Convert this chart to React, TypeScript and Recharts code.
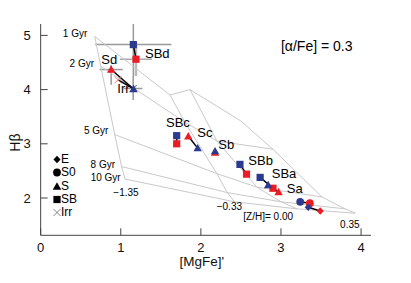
import React from 'react';
import { ScatterChart, Scatter, XAxis, YAxis, ErrorBar, Legend } from 'recharts';

const BLUE = '#2b3a8f';
const RED = '#ec1c24';
const GRID = '#c9c9c9';
const FRAME = '#444';
const FONT = '"Liberation Sans", Arial, Helvetica, sans-serif';

const X_DOMAIN: [number, number] = [0, 4.124];
const Y_DOMAIN: [number, number] = [1.312, 5.21];
const xTicks = [0, 1, 2, 3, 4];
const xMinorTicks = [0.2, 0.4, 0.6, 0.8, 1.2, 1.4, 1.6, 1.8, 2.2, 2.4, 2.6, 2.8, 3.2, 3.4, 3.6, 3.8, 4.0];
const yTicks = [2, 3, 4, 5];
const yMinorTicks = [1.4, 1.6, 1.8, 2.2, 2.4, 2.6, 2.8, 3.2, 3.4, 3.6, 3.8, 4.2, 4.4, 4.6, 4.8, 5.2];

// model grid: one pair of arrays per [Z/H], ages 1, 2, 5, 8, 10 Gyr
const ageLabels = ['1 Gyr', '2 Gyr', '5 Gyr', '8 Gyr', '10 Gyr'];
const mgfeZm135 = [0.675, 0.75, 0.925, 1.01, 1.053];
const hbZm135 = [4.98, 4.43, 3.17, 2.58, 2.35];
const mgfeZm033 = [1.615, 1.8, 2.2, 2.33, 2.42];
const hbZm033 = [3.9, 3.4, 2.45, 2.1, 1.93];
const mgfeZ000 = [1.865, 2.2, 2.7, 3.0, 3.2];
const hbZ000 = [4.0, 3.05, 2.2, 1.93, 1.8];
const mgfeZp035 = [2.5, 2.9, 3.51, 3.8, 3.93];
const hbZp035 = [3.42, 2.9, 2.02, 1.8, 1.72];

const ageLabelMgFe = [0.582, 0.666, 0.845, 0.928, 0.999];
const ageLabelHb = [4.97, 4.42, 3.18, 2.55, 2.32];
const metalLabels = ['\u22121.35', '\u22120.33', '[Z/H]= 0.00', '0.35'];
const metalLabelMgFe = [0.907, 2.198, 2.53, 3.738];
const metalLabelHb = [2.04, 1.77, 1.594, 1.44];

// galaxy types: blue and red measurement of each
const galaxyTypes = ['SBd', 'Sd', 'Irr', 'SBc', 'Sc', 'Sb', 'SBb', 'SBa', 'Sa', 'S0', 'E'];
const galaxyMarker = ['square', 'triangle', 'cross', 'square', 'triangle', 'triangle', 'square', 'square', 'triangle', 'circle', 'diamond'];
const mgfeBlue = [1.157, 1.16, 1.155, 1.698, 1.96, 2.177, 2.488, 2.74, 2.84, 3.24, 3.34];
const hbBlue = [4.83, 4.01, 4.02, 3.15, 2.92, 2.865, 2.62, 2.38, 2.24, 1.93, 1.83];
const mgfeRed = [1.19, 0.88, 0.965, 1.698, 1.843, 2.177, 2.57, 2.9, 2.97, 3.36, 3.49];
const hbRed = [4.56, 4.37, 4.18, 3.0, 3.14, 2.84, 2.44, 2.18, 2.11, 1.905, 1.76];
const typeLabelMgFe = [1.303, 0.757, 0.957, 1.565, 1.956, 2.218, 2.593, 2.885, 3.072];
const typeLabelHb = [4.576, 4.47, 3.94, 3.315, 3.13, 2.9, 2.61, 2.36, 2.1];

// error bars: SBd (blue, red), Sd (red), Irr (blue)
const errIndex = [0, 0, 1, 2];
const errSide = ['blue', 'red', 'red', 'blue'];
const errMgFe = [0.475, 0.2, 0.145, 0.115];
const errHbLow = [0.6, 0.31, 0.28, 0.21];
const errHbHigh = [0.38, 0.31, 0.08, 0.21];

const legendKinds = ['diamond', 'circle', 'triangle', 'square', 'cross'];
const legendLabels = ['E', 'S0', 'S', 'SB', 'Irr'];

const metalTracks = [
  [mgfeZm135, hbZm135],
  [mgfeZm033, hbZm033],
  [mgfeZ000, hbZ000],
  [mgfeZp035, hbZp035],
].map(([mx, hy]) => mx.map((x, i) => ({ x, y: hy[i] })));
const ageTracks = ageLabels.map((_, a) => metalTracks.map((track) => track[a]));

const pointsFor = (side: string) =>
  galaxyTypes.map((name, i) => ({
    name,
    kind: galaxyMarker[i],
    side,
    x: side === 'blue' ? mgfeBlue[i] : mgfeRed[i],
    y: side === 'blue' ? hbBlue[i] : hbRed[i],
  }));
const bluePoints = pointsFor('blue');
const redPoints = pointsFor('red');
const pairs = galaxyTypes.map((_, i) => [bluePoints[i], redPoints[i]]);

const errPoints = errIndex.map((gi, k) => {
  const p = errSide[k] === 'blue' ? bluePoints[gi] : redPoints[gi];
  return { x: p.x, y: p.y, ex: errMgFe[k], ey: [errHbLow[k], errHbHigh[k]], light: errSide[k] === 'red' && gi === 0 };
});

const typeLabels = typeLabelMgFe.map((x, i) => ({ x, y: typeLabelHb[i], text: galaxyTypes[i] }));
const ageText = ageLabels.map((text, i) => ({ x: ageLabelMgFe[i], y: ageLabelHb[i], text }));
const metalText = metalLabels.map((text, i) => ({ x: metalLabelMgFe[i], y: metalLabelHb[i], text }));
const alphaText = [{ x: 3.0, y: 4.72, text: '[\u03b1/Fe] = 0.3' }];

const Empty = () => <g />;

const Symbol = ({ kind, cx, cy, fill }: { kind: string; cx: number; cy: number; fill: string }) => {
  switch (kind) {
    case 'square':
      return <rect x={cx - 3.6} y={cy - 3.6} width={7.2} height={7.2} fill={fill} />;
    case 'triangle':
      return <polygon points={`${cx},${cy - 4.2} ${cx + 4.2},${cy + 3.2} ${cx - 4.2},${cy + 3.2}`} fill={fill} />;
    case 'circle':
      return <circle cx={cx} cy={cy} r={3.9} fill={fill} />;
    case 'diamond':
      return <polygon points={`${cx},${cy - 3.8} ${cx + 3.5},${cy} ${cx},${cy + 3.8} ${cx - 3.5},${cy}`} fill={fill} />;
    default:
      return (
        <path d={`M${cx - 3.5},${cy - 3.5}L${cx + 3.5},${cy + 3.5}M${cx - 3.5},${cy + 3.5}L${cx + 3.5},${cy - 3.5}`}
          stroke={fill} strokeWidth={0.9} fill="none" />
      );
  }
};

const Marker = (props: any) => {
  const { cx, cy, payload } = props;
  const base = payload.side === 'blue' ? BLUE : RED;
  const fill = payload.kind === 'cross' && payload.side === 'red' ? '#f07a7a' : base;
  return <Symbol kind={payload.kind} cx={cx} cy={cy} fill={fill} />;
};

const TypeLabel = (props: any) => (
  <text x={props.cx} y={props.cy} fontSize={13} fontFamily={FONT} fill="#000">{props.payload.text}</text>
);
const AgeLabel = (props: any) => (
  <text x={props.cx} y={props.cy} fontSize={10} fontFamily={FONT} fill="#000" textAnchor="end">{props.payload.text}</text>
);
const MetalLabel = (props: any) => (
  <text x={props.cx} y={props.cy} fontSize={10} fontFamily={FONT} fill="#000">{props.payload.text}</text>
);
const AlphaLabel = (props: any) => (
  <text x={props.cx} y={props.cy} fontSize={14} fontFamily={FONT} fill="#000">{props.payload.text}</text>
);

const LegendBox = () => (
  <div style={{ fontFamily: FONT, fontSize: 12, color: '#000' }}>
    {legendLabels.map((label, i) => (
      <div key={label} style={{ display: 'flex', alignItems: 'center', height: 13.3 }}>
        <svg width={8} height={9} style={{ display: 'block' }}>
          <Symbol kind={legendKinds[i]} cx={4} cy={4.5} fill={legendKinds[i] === 'cross' ? '#777' : '#000'} />
        </svg>
        <span style={{ lineHeight: '13px' }}>{label}</span>
      </div>
    ))}
  </div>
);

const tickStyle = { fill: '#111', fontSize: 13, fontFamily: FONT };

export default function App() {
  return (
    <div style={{ width: 403, height: 275 }}>
      <ScatterChart width={403} height={275} margin={{ top: 16, right: 40, bottom: 17.7, left: 0 }}>
        <XAxis xAxisId="minor" type="number" dataKey="x" domain={X_DOMAIN} allowDataOverflow ticks={xMinorTicks}
          interval={0} tick={false} tickSize={-4} axisLine={false} tickLine={{ stroke: FRAME }} height={0} />
        <XAxis type="number" dataKey="x" domain={X_DOMAIN} allowDataOverflow ticks={xTicks} interval={0}
          tickSize={-7} tickMargin={14} height={30} axisLine={{ stroke: FRAME }} tickLine={{ stroke: FRAME }}
          tick={tickStyle}
          label={{ value: "[MgFe]'", position: 'insideBottom', offset: -1, dx: -4, fill: '#111', fontSize: 13.5, fontFamily: FONT }} />
        <XAxis xAxisId="top" orientation="top" type="number" dataKey="x" domain={X_DOMAIN} allowDataOverflow
          ticks={xTicks} interval={0} tick={false} tickSize={-7} height={0} axisLine={{ stroke: FRAME }} tickLine={{ stroke: FRAME }} />
        <XAxis xAxisId="topMinor" orientation="top" type="number" dataKey="x" domain={X_DOMAIN} allowDataOverflow
          ticks={xMinorTicks} interval={0} tick={false} tickSize={-4} height={0} axisLine={false} tickLine={{ stroke: FRAME }} />

        <YAxis yAxisId="minor" type="number" dataKey="y" domain={Y_DOMAIN} allowDataOverflow ticks={yMinorTicks}
          interval={0} tick={false} tickSize={-4} axisLine={false} tickLine={{ stroke: FRAME }} width={0} />
        <YAxis type="number" dataKey="y" domain={Y_DOMAIN} allowDataOverflow ticks={yTicks} interval={0}
          tickSize={-7} tickMargin={17} width={32.67} axisLine={{ stroke: FRAME }} tickLine={{ stroke: FRAME }}
          tick={tickStyle}
          label={{ value: 'H\u03b2', angle: -90, position: 'insideLeft', offset: 7, dy: 13, fill: '#111', fontSize: 14, fontFamily: FONT, style: { textAnchor: 'middle' } }} />
        <YAxis yAxisId="right" orientation="right" type="number" dataKey="y" domain={Y_DOMAIN} allowDataOverflow
          ticks={yTicks} interval={0} tick={false} tickSize={-7} width={0} axisLine={{ stroke: FRAME }} tickLine={{ stroke: FRAME }} />
        <YAxis yAxisId="rightMinor" orientation="right" type="number" dataKey="y" domain={Y_DOMAIN} allowDataOverflow
          ticks={yMinorTicks} interval={0} tick={false} tickSize={-4} width={0} axisLine={false} tickLine={{ stroke: FRAME }} />

        {metalTracks.map((track, i) => (
          <Scatter key={`z${i}`} data={track} line={{ stroke: GRID, strokeWidth: 1 }} shape={Empty} isAnimationActive={false} />
        ))}
        {ageTracks.map((track, i) => (
          <Scatter key={`a${i}`} data={track} line={{ stroke: GRID, strokeWidth: 1 }} shape={Empty} isAnimationActive={false} />
        ))}

        <Scatter data={errPoints.filter((p) => !p.light)} shape={Empty} isAnimationActive={false}>
          <ErrorBar dataKey="ex" direction="x" width={0} stroke="#999" strokeWidth={1.5} />
          <ErrorBar dataKey="ey" direction="y" width={0} stroke="#999" strokeWidth={1.5} />
        </Scatter>
        <Scatter data={errPoints.filter((p) => p.light)} shape={Empty} isAnimationActive={false}>
          <ErrorBar dataKey="ex" direction="x" width={0} stroke="#aaa" strokeWidth={1.5} />
          <ErrorBar dataKey="ey" direction="y" width={0} stroke="#bbb" strokeWidth={2.5} />
        </Scatter>

        {pairs.map((pair, i) => (
          <Scatter key={`p${i}`} data={pair} line={{ stroke: '#000', strokeWidth: 1.5 }} shape={Empty} isAnimationActive={false} />
        ))}

        <Scatter data={redPoints} shape={Marker} isAnimationActive={false} />
        <Scatter data={bluePoints} shape={Marker} isAnimationActive={false} />

        <Scatter data={ageText} shape={AgeLabel} isAnimationActive={false} />
        <Scatter data={metalText} shape={MetalLabel} isAnimationActive={false} />
        <Scatter data={typeLabels} shape={TypeLabel} isAnimationActive={false} />
        <Scatter data={alphaText} shape={AlphaLabel} isAnimationActive={false} />

        <Legend layout="vertical" align="center" verticalAlign="middle" content={<LegendBox />}
          wrapperStyle={{ left: 45, top: 145, width: 'auto', height: 'auto' }} />
      </ScatterChart>
    </div>
  );
}
